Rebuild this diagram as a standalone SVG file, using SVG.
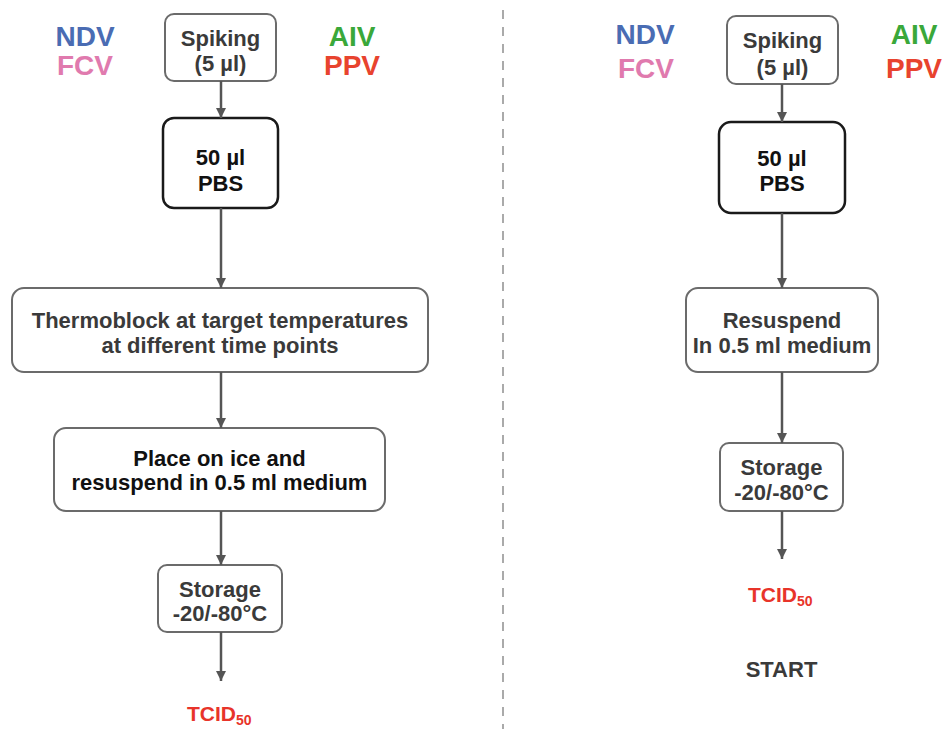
<svg xmlns="http://www.w3.org/2000/svg" width="945" height="729" viewBox="0 0 945 729">
  <style>
    .box { fill: #ffffff; stroke: #6b6b6b; stroke-width: 2; }
    .box-strong { fill: #ffffff; stroke: #1a1a1a; stroke-width: 2.5; }
    .t { font-family: "Liberation Sans", Arial, sans-serif; font-weight: bold; font-size: 22px; fill: #3a3a3a; text-anchor: middle; }
    .t-dark { fill: #111111; }
    .virus { font-family: "Liberation Sans", Arial, sans-serif; font-weight: bold; font-size: 28px; text-anchor: middle; }
    .ndv { fill: #4a6cb3; }
    .fcv { fill: #e07aae; }
    .aiv { fill: #3aa83a; }
    .ppv { fill: #e8432e; }
    .tcid { font-family: "Liberation Sans", Arial, sans-serif; font-weight: bold; font-size: 21px; fill: #e8342a; }
    .conn { stroke: #555555; stroke-width: 2.5; fill: none; marker-end: url(#arrow); }
    .divider { stroke: #aaaaaa; stroke-width: 2; stroke-dasharray: 9 8; }
  </style>
  <defs>
    <marker id="arrow" markerUnits="userSpaceOnUse" markerWidth="12" markerHeight="12" refX="10" refY="5" orient="auto">
      <path d="M0,0 L10,5 L0,10 Z" fill="#555555"/>
    </marker>
  </defs>

  <rect width="945" height="729" fill="#ffffff"/>

  <!-- dashed separator between the two protocols -->
  <line class="divider" x1="503" y1="10" x2="503" y2="729"/>

  <!-- virus labels -->
  <g id="labels-left">
    <text class="virus ndv" x="85" y="46">NDV</text>
    <text class="virus fcv" x="85" y="75">FCV</text>
    <text class="virus aiv" x="352" y="46">AIV</text>
    <text class="virus ppv" x="352" y="75">PPV</text>
  </g>
  <g id="labels-right">
    <text class="virus ndv" x="645" y="44">NDV</text>
    <text class="virus fcv" x="646" y="78">FCV</text>
    <text class="virus aiv" x="914" y="44">AIV</text>
    <text class="virus ppv" x="914" y="78">PPV</text>
  </g>

  <!-- left protocol -->
  <g id="l-spiking">
    <rect class="box" x="165" y="14" width="111" height="67" rx="9"/>
    <text class="t" x="220.5" y="45.5">Spiking</text>
    <text class="t" x="220.5" y="70.5">(5 µl)</text>
  </g>
  <g id="l-pbs">
    <rect class="box-strong" x="163" y="118" width="115" height="90" rx="11"/>
    <text class="t t-dark" x="220.5" y="165">50 µl</text>
    <text class="t t-dark" x="220.5" y="191">PBS</text>
  </g>
  <g id="l-thermoblock">
    <rect class="box" x="12" y="288" width="416" height="84" rx="12"/>
    <text class="t" x="220" y="327.5">Thermoblock at target temperatures</text>
    <text class="t" x="220" y="352.5">at different time points</text>
  </g>
  <g id="l-ice">
    <rect class="box" x="54" y="428" width="331" height="83" rx="12"/>
    <text class="t t-dark" x="219.5" y="465.5">Place on ice and</text>
    <text class="t t-dark" x="219.5" y="489.5">resuspend in 0.5 ml medium</text>
  </g>
  <g id="l-storage">
    <rect class="box" x="158" y="565" width="124" height="67" rx="9"/>
    <text class="t" x="220" y="596.5">Storage</text>
    <text class="t" x="220" y="620.5">-20/-80°C</text>
  </g>
  <g id="l-tcid">
    <text class="tcid" x="187" y="721">TCID<tspan font-size="14" dy="4">50</tspan></text>
  </g>

  <!-- right protocol -->
  <g id="r-spiking">
    <rect class="box" x="727" y="16" width="111" height="68" rx="9"/>
    <text class="t" x="782.5" y="47.5">Spiking</text>
    <text class="t" x="782.5" y="74.5">(5 µl)</text>
  </g>
  <g id="r-pbs">
    <rect class="box-strong" x="719" y="122" width="126" height="91" rx="12"/>
    <text class="t t-dark" x="782" y="166">50 µl</text>
    <text class="t t-dark" x="782" y="191">PBS</text>
  </g>
  <g id="r-resuspend">
    <rect class="box" x="686" y="288" width="192" height="84" rx="12"/>
    <text class="t" x="782" y="327.5">Resuspend</text>
    <text class="t" x="782" y="352.5">In 0.5 ml medium</text>
  </g>
  <g id="r-storage">
    <rect class="box" x="720" y="443" width="123" height="68" rx="9"/>
    <text class="t" x="781.5" y="474.5">Storage</text>
    <text class="t" x="781.5" y="499.5">-20/-80°C</text>
  </g>
  <g id="r-tcid">
    <text class="tcid" x="748" y="602">TCID<tspan font-size="14" dy="4">50</tspan></text>
  </g>
  <g id="r-start">
    <text class="t" x="781.5" y="677">START</text>
  </g>

  <!-- connectors -->
  <g id="connectors">
    <line class="conn" x1="221" y1="81" x2="221" y2="118"/>
    <line class="conn" x1="221" y1="208" x2="221" y2="288"/>
    <line class="conn" x1="221" y1="372" x2="221" y2="428"/>
    <line class="conn" x1="221" y1="511" x2="221" y2="565"/>
    <line class="conn" x1="221" y1="632" x2="221" y2="681"/>

    <line class="conn" x1="782" y1="84" x2="782" y2="122"/>
    <line class="conn" x1="782" y1="213" x2="782" y2="288"/>
    <line class="conn" x1="782" y1="372" x2="782" y2="443"/>
    <line class="conn" x1="782" y1="511" x2="782" y2="559"/>
  </g>
</svg>
